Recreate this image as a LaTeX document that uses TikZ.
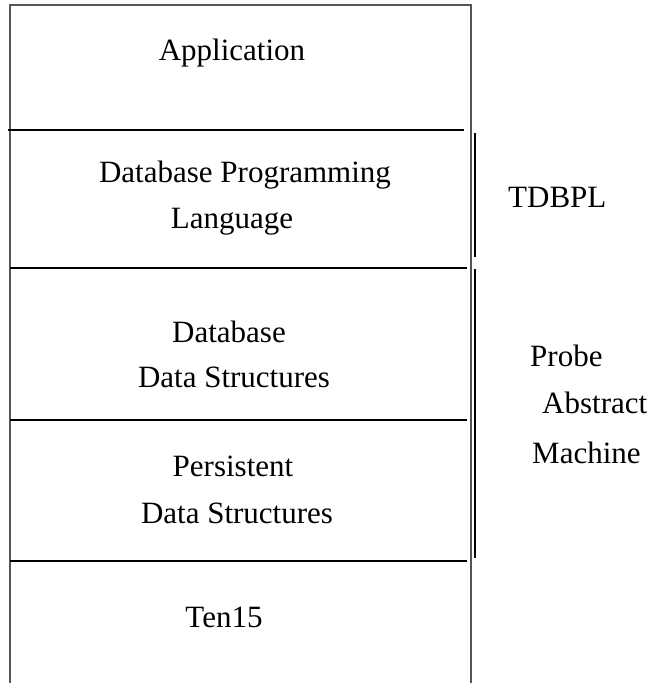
\documentclass[tikz,border=0pt]{standalone}
\usepackage{fontspec}
\setmainfont{Liberation Serif}
\usepackage{xcolor}
\usetikzlibrary{positioning}
\definecolor{edgegray}{HTML}{555555}
\tikzstyle{layer} = [inner sep=0pt, anchor=base, font=\fontsize{31}{37}\selectfont]
\tikzstyle{side} = [inner sep=0pt, anchor=base west, font=\fontsize{31}{37}\selectfont]
\tikzstyle{border} = [edgegray, line width=2pt]
\tikzstyle{divider} = [black, line width=1.4pt]
\tikzstyle{bracket} = [black, line width=1.4pt]

\begin{document}
\begin{tikzpicture}[x=1pt, y=-1pt]
  \useasboundingbox (0,0) rectangle (652,683);

  % outer frame, open at the bottom
  \draw [border] (10,683) -- (10,5) -- (471,5) -- (471,683);

  % layer dividers
  \draw [divider] (8,130) -- (464,130);
  \draw [divider] (10,268) -- (467,268);
  \draw [divider] (10,420) -- (467,420);
  \draw [divider] (10,561) -- (467,561);

  % layers
  \node (app) [layer] at (232,60) {Application};
  \node (dbpl a) [layer] at (245,182) {Database Programming};
  \node (dbpl b) [layer] at (232,228) {Language};
  \node (dbds a) [layer] at (229,342) {Database};
  \node (dbds b) [layer] at (234,387) {Data Structures};
  \node (pds a) [layer] at (233,476) {Persistent};
  \node (pds b) [layer] at (237,523) {Data Structures};
  \node (ten) [layer] at (224,627) {Ten15};

  % side brackets
  \draw [bracket] (475,133) -- (475,257);
  \draw [bracket] (475,269) -- (475,558);
  \node (tdbpl) [side] at (508,207) {TDBPL};
  \node (pam a) [side] at (530,366) {Probe};
  \node (pam b) [side] at (542,413) {Abstract};
  \node (pam c) [side] at (532,463) {Machine};

\end{tikzpicture}
\end{document}
